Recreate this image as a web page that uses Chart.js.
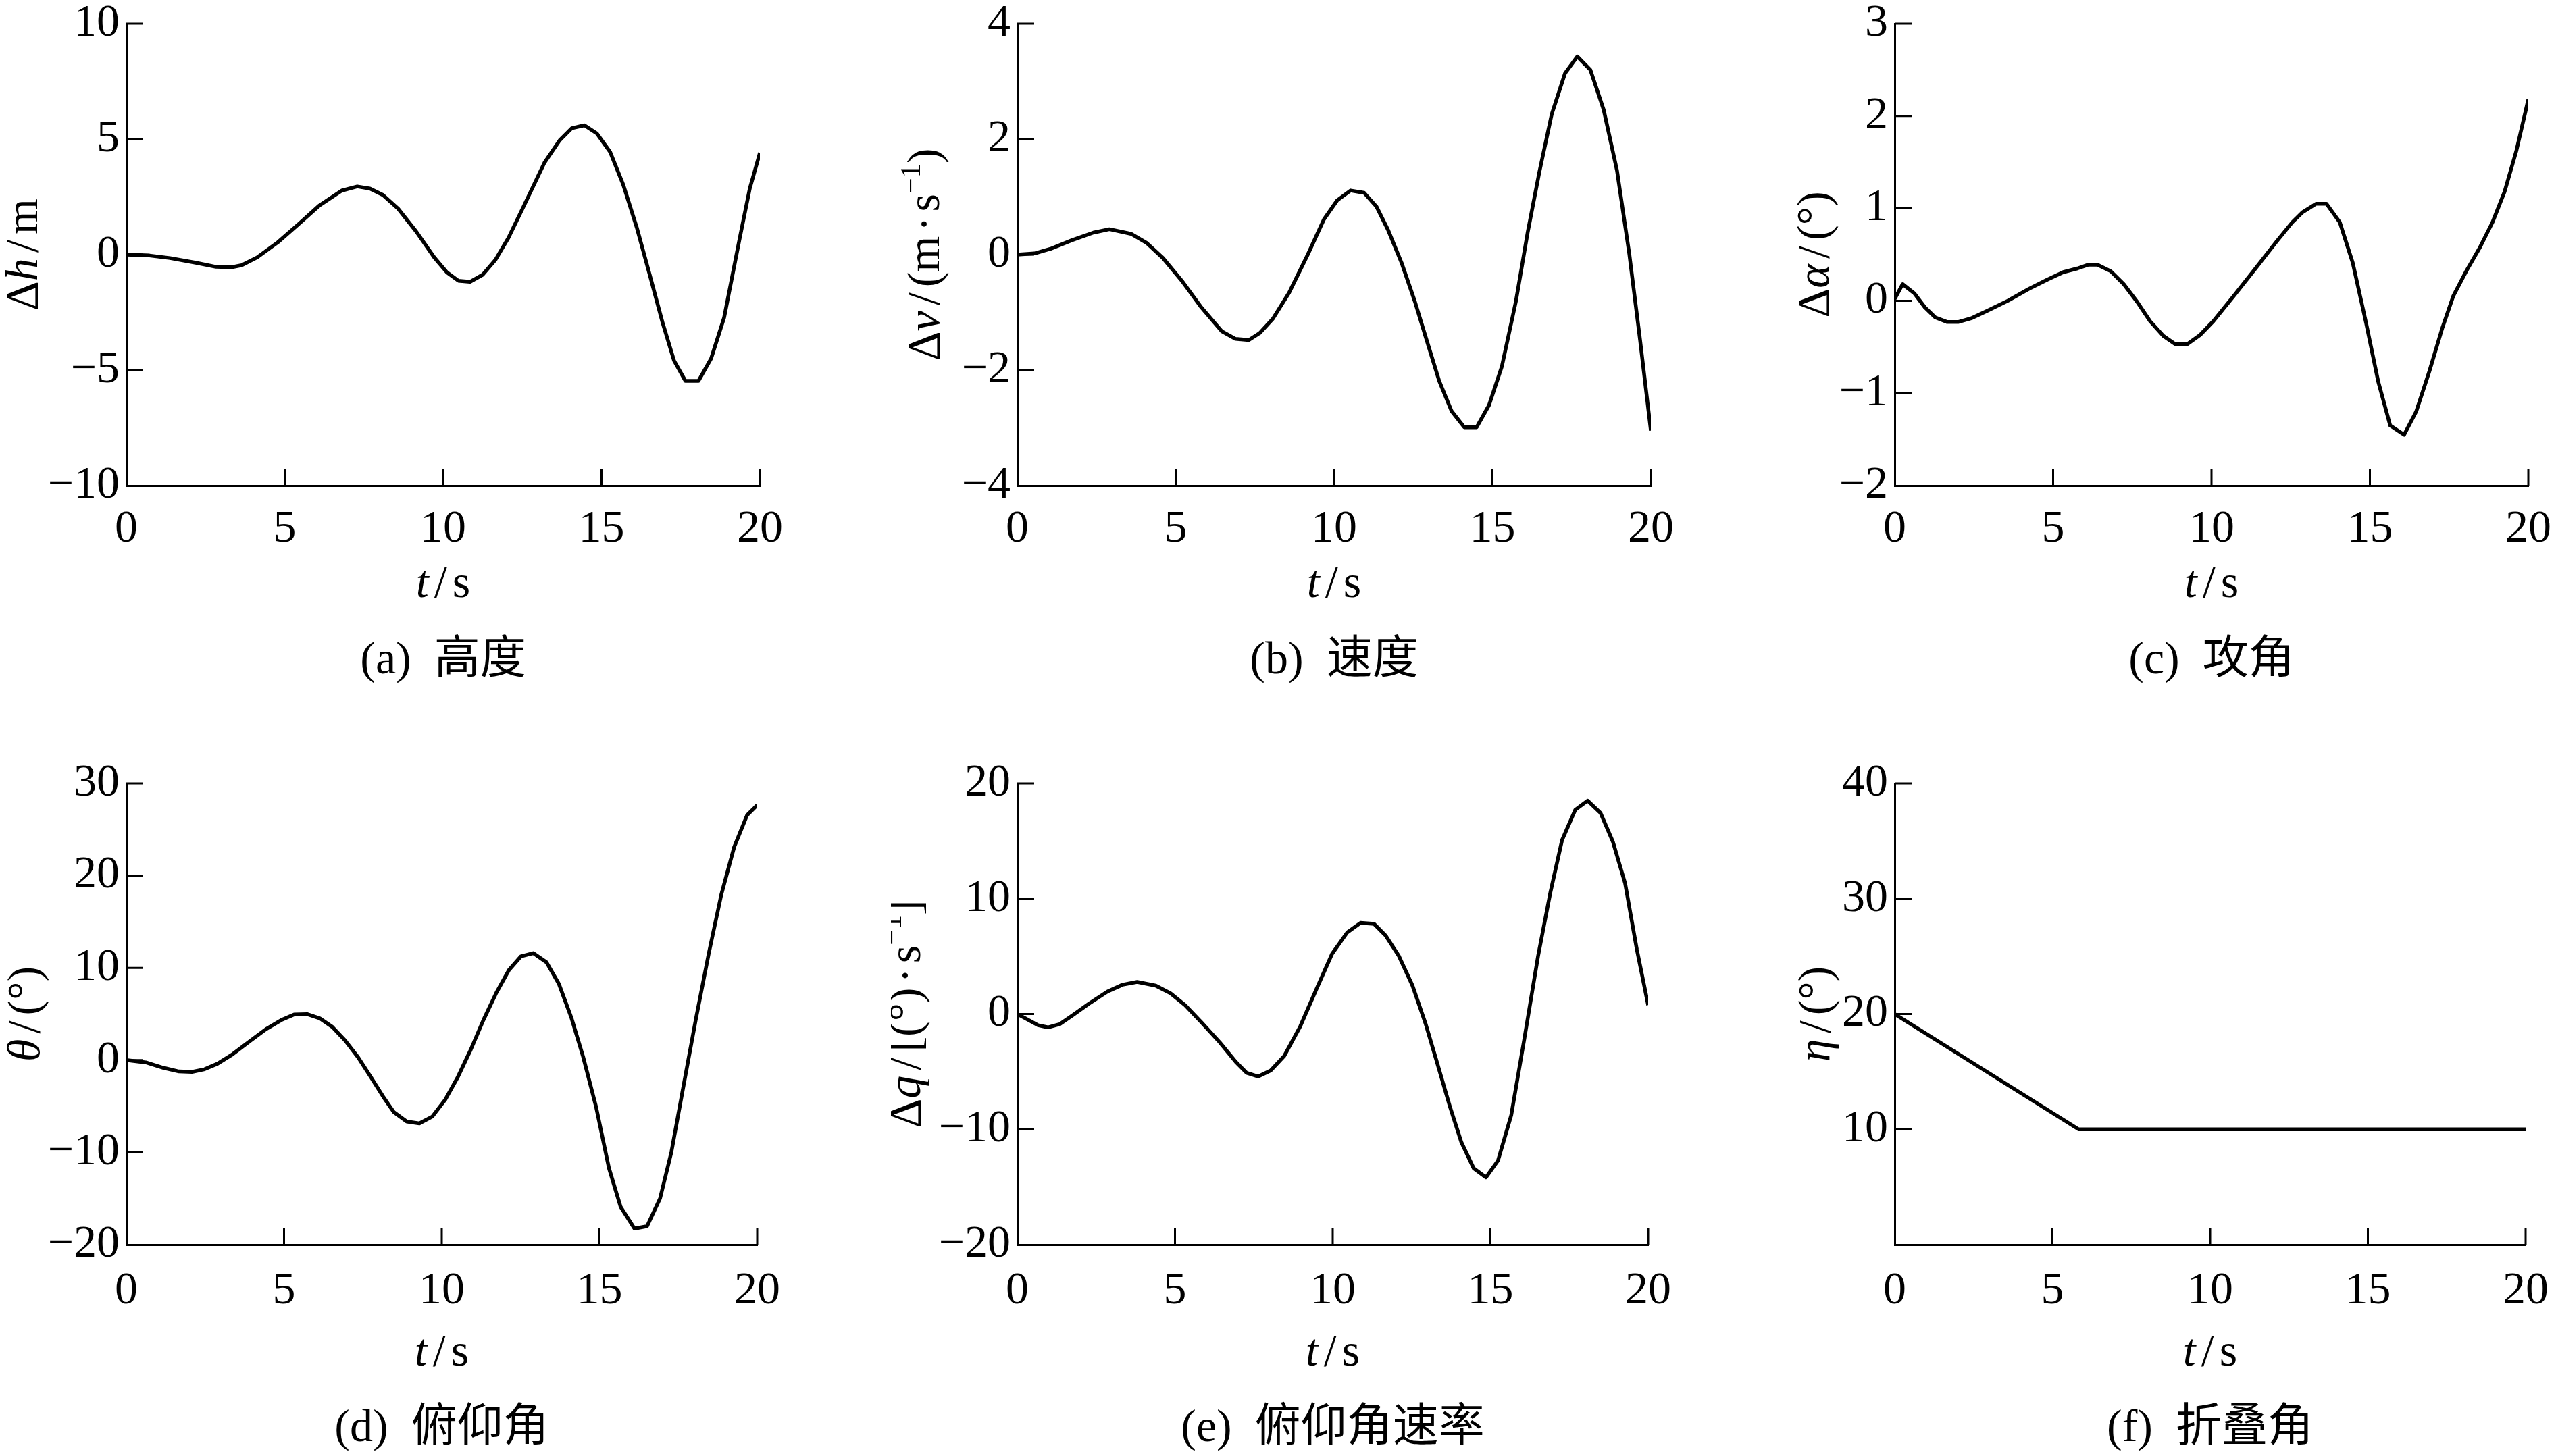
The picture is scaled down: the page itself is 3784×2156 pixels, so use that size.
<!DOCTYPE html>
<html>
<head>
<meta charset="utf-8">
<title>纵向响应</title>
<script src="https://cdn.jsdelivr.net/npm/chart.js@4.4.1/dist/chart.umd.min.js"></script>
<style>
    html, body { margin: 0; padding: 0; background: #fff; width: 3784px; height: 2156px; overflow: hidden; }
    canvas { position: absolute; }
</style>
</head>
<body>
<canvas id="chartA"></canvas>
<canvas id="chartB"></canvas>
<canvas id="chartC"></canvas>
<canvas id="chartD"></canvas>
<canvas id="chartE"></canvas>
<canvas id="chartF"></canvas>
<script>
// time axis ticks, shared by every panel
const tTicks = [0, 5, 10, 15, 20];

// (a) height
const tA = [0, 0.73, 1.38, 2.19, 2.83, 3.32, 3.64, 4.13, 4.78, 5.43, 6.08, 6.8, 7.29, 7.69, 8.1, 8.58, 9.15, 9.72, 10.12, 10.48, 10.85, 11.25, 11.66, 12.06, 12.55, 13.2, 13.68, 14.06, 14.46, 14.85, 15.27, 15.68, 16.11, 16.52, 16.92, 17.29, 17.65, 18.06, 18.46, 18.87, 19.35, 19.68, 20];
const heightA = [0, -0.04, -0.15, -0.35, -0.53, -0.55, -0.46, -0.12, 0.53, 1.31, 2.11, 2.77, 2.95, 2.86, 2.58, 1.99, 1.0, -0.12, -0.77, -1.13, -1.18, -0.87, -0.21, 0.72, 2.11, 3.98, 4.95, 5.47, 5.6, 5.25, 4.45, 3.05, 1.19, -0.86, -2.91, -4.59, -5.47, -5.47, -4.5, -2.73, 0.62, 2.86, 4.41];
const yTicksA = [-10, -5, 0, 5, 10];

// (b) speed
const tB = [0, 0.54, 1.05, 1.73, 2.4, 2.91, 3.59, 4.09, 4.6, 5.19, 5.79, 6.46, 6.89, 7.31, 7.65, 8.07, 8.58, 9.17, 9.68, 10.1, 10.52, 10.95, 11.34, 11.71, 12.13, 12.55, 12.9, 13.32, 13.71, 14.11, 14.5, 14.89, 15.3, 15.74, 16.11, 16.48, 16.87, 17.29, 17.68, 18.09, 18.51, 18.93, 19.32, 19.66, 20];
const speedB = [0, 0.02, 0.1, 0.25, 0.38, 0.44, 0.36, 0.2, -0.06, -0.45, -0.9, -1.33, -1.46, -1.48, -1.36, -1.11, -0.66, 0, 0.61, 0.94, 1.11, 1.07, 0.83, 0.42, -0.14, -0.81, -1.44, -2.19, -2.71, -2.99, -2.99, -2.61, -1.93, -0.81, 0.38, 1.43, 2.43, 3.14, 3.43, 3.2, 2.51, 1.46, 0.01, -1.48, -3.05];
const yTicksB = [-4, -2, 0, 2, 4];

// (c) angle of attack
const tC = [0, 0.25, 0.62, 0.95, 1.28, 1.66, 2.0, 2.41, 2.91, 3.57, 4.24, 4.82, 5.32, 5.77, 6.1, 6.4, 6.82, 7.23, 7.65, 8.06, 8.48, 8.86, 9.23, 9.64, 10.06, 10.72, 11.39, 12.05, 12.55, 12.88, 13.3, 13.63, 14.05, 14.46, 14.88, 15.26, 15.64, 16.08, 16.46, 16.88, 17.29, 17.63, 18.04, 18.46, 18.87, 19.25, 19.62, 20];
const alphaC = [0.02, 0.18, 0.08, -0.07, -0.18, -0.23, -0.23, -0.19, -0.11, 0.0, 0.13, 0.23, 0.31, 0.35, 0.39, 0.39, 0.32, 0.18, -0.01, -0.22, -0.38, -0.47, -0.47, -0.37, -0.22, 0.06, 0.35, 0.64, 0.85, 0.96, 1.05, 1.05, 0.85, 0.41, -0.24, -0.87, -1.35, -1.45, -1.2, -0.76, -0.29, 0.05, 0.32, 0.57, 0.85, 1.18, 1.62, 2.18];
const yTicksC = [-2, -1, 0, 1, 2, 3];

// (d) pitch angle
const tD = [0, 0.62, 1.18, 1.67, 2.08, 2.48, 2.89, 3.37, 3.94, 4.43, 4.91, 5.32, 5.73, 6.13, 6.53, 6.94, 7.35, 7.75, 8.16, 8.48, 8.89, 9.29, 9.7, 10.11, 10.51, 10.92, 11.32, 11.73, 12.13, 12.51, 12.9, 13.32, 13.71, 14.11, 14.48, 14.89, 15.3, 15.67, 16.11, 16.51, 16.92, 17.28, 17.65, 18.05, 18.46, 18.86, 19.27, 19.68, 20];
const thetaD = [0, -0.25, -0.84, -1.23, -1.28, -0.99, -0.39, 0.64, 2.12, 3.36, 4.34, 4.94, 4.99, 4.54, 3.6, 2.12, 0.3, -1.83, -4.05, -5.63, -6.66, -6.86, -6.12, -4.29, -1.83, 1.14, 4.34, 7.3, 9.77, 11.25, 11.6, 10.61, 8.29, 4.59, 0.39, -5.03, -11.7, -15.9, -18.26, -18.0, -15, -9.96, -3.06, 4.34, 11.5, 17.92, 23.1, 26.56, 27.64];
const yTicksD = [-20, -10, 0, 10, 20, 30];

// (e) pitch rate
const tE = [0, 0.66, 0.97, 1.34, 1.76, 2.27, 2.86, 3.34, 3.8, 4.39, 4.86, 5.32, 5.83, 6.42, 6.93, 7.27, 7.64, 8.03, 8.46, 8.97, 9.47, 9.98, 10.46, 10.88, 11.31, 11.68, 12.1, 12.53, 12.95, 13.29, 13.71, 14.08, 14.47, 14.86, 15.24, 15.66, 16.08, 16.51, 16.9, 17.27, 17.69, 18.08, 18.49, 18.88, 19.27, 19.64, 20];
const rateE = [0, -0.97, -1.16, -0.89, -0.1, 0.89, 1.95, 2.54, 2.78, 2.46, 1.79, 0.77, -0.69, -2.46, -4.16, -5.1, -5.42, -4.91, -3.65, -1.08, 2.07, 5.22, 7.07, 7.9, 7.82, 6.8, 5.02, 2.46, -0.89, -4.04, -7.98, -11.13, -13.38, -14.17, -12.71, -8.77, -2.07, 5.02, 10.54, 15.07, 17.71, 18.5, 17.44, 14.96, 11.33, 5.62, 0.77];
const yTicksE = [-20, -10, 0, 10, 20];

// (f) folding angle
const tF = [0, 5.83, 20];
const etaF = [20, 10, 10];
const yTicksF = [10, 20, 30, 40];

// ---- layout / style ----
const FONT = '"Liberation Serif", "Noto Sans CJK SC", serif';
const SIZE = 68;
const TICK = 25;
const PLOT_W = 946, Y_AXIS_W = 187, TOP_PAD = 60, RIGHT_PAD = 50, X_AXIS_H = 313;
const cols = [187, 1506, 2805];
const rows = [
    { top: 35, bottom: 719, labelPad: 24, xTitle: 143, caption: 256 },
    { top: 1160, bottom: 1843, labelPad: 28, xTitle: 157, caption: 269 }
];

// rich text pieces: plain, italic ('i'), superscript ('sup'); gap() is a fixed blank in em
const seg = (text, style) => ({ text, italic: style === 'i', sup: style === 'sup' });
const gap = em => ({ text: '', gap: em });
const slash = [gap(0.12), seg('/'), gap(0.12)];
const dot = [gap(0.1), seg('·'), gap(0.1)];
const xTitle = [seg('t', 'i'), ...slash, seg('s')];

const panels = [
    { id: 'chartA', col: 0, row: 0, t: tA, v: heightA, yTicks: yTicksA, yMin: -10, yMax: 10, yTitleX: -154,
      yTitle: [seg('Δ'), seg('h', 'i'), ...slash, seg('m')], caption: '(a)  高度' },
    { id: 'chartB', col: 1, row: 0, t: tB, v: speedB, yTicks: yTicksB, yMin: -4, yMax: 4, yTitleX: -138,
      yTitle: [seg('Δ'), seg('v', 'i'), ...slash, seg('(m'), ...dot, seg('s'), seg('−1', 'sup'), seg(')')], caption: '(b)  速度' },
    { id: 'chartC', col: 2, row: 0, t: tC, v: alphaC, yTicks: yTicksC, yMin: -2, yMax: 3, yTitleX: -120,
      yTitle: [seg('Δ'), seg('α', 'i'), ...slash, seg('(°)')], caption: '(c)  攻角' },
    { id: 'chartD', col: 0, row: 1, t: tD, v: thetaD, yTicks: yTicksD, yMin: -20, yMax: 30, yTitleX: -151,
      yTitle: [seg('θ', 'i'), ...slash, seg('(°)')], caption: '(d)  俯仰角' },
    { id: 'chartE', col: 1, row: 1, t: tE, v: rateE, yTicks: yTicksE, yMin: -20, yMax: 20, yTitleX: -166,
      yTitle: [seg('Δ'), seg('q', 'i'), ...slash, seg('[(°)'), ...dot, seg('s'), seg('−1', 'sup'), seg(']')], caption: '(e)  俯仰角速率' },
    { id: 'chartF', col: 2, row: 1, t: tF, v: etaF, yTicks: yTicksF, yMin: 0, yMax: 40, yTitleX: -118,
      yTitle: [seg('η', 'i'), ...slash, seg('(°)')], caption: '(f)  折叠角' }
];
const panelById = new Map(panels.map(p => [p.id, p]));

function drawRich(ctx, segs, cx, cy) {
    const parts = segs.map(s => {
        if (s.gap) return { text: '', w: s.gap * SIZE };
        const size = s.sup ? Math.round(SIZE * 0.62) : SIZE;
        const font = (s.italic ? 'italic ' : '') + size + 'px ' + FONT;
        ctx.font = font;
        return { text: s.text, sup: s.sup, font, w: ctx.measureText(s.text).width };
    });
    const total = parts.reduce((a, p) => a + p.w, 0);
    let x = cx - total / 2;
    const base = cy + SIZE * 0.33;
    ctx.textAlign = 'left';
    ctx.textBaseline = 'alphabetic';
    parts.forEach(p => {
        if (p.text) {
            ctx.font = p.font;
            ctx.fillText(p.text, x, p.sup ? base - SIZE * 0.42 : base);
        }
        x += p.w;
    });
}

// inward ticks, axis titles and the caption under each panel
const decor = {
    id: 'decor',
    afterDraw(chart) {
        const p = panelById.get(chart.canvas.id);
        const r = rows[p.row];
        const { ctx, chartArea: area, scales: { x, y } } = chart;
        ctx.save();
        ctx.strokeStyle = '#000';
        ctx.lineWidth = 3;
        ctx.beginPath();
        tTicks.filter(v => v > 0).forEach(v => {
            const px = x.getPixelForValue(v);
            ctx.moveTo(px, area.bottom);
            ctx.lineTo(px, area.bottom - TICK);
        });
        p.yTicks.filter(v => v > p.yMin).forEach(v => {
            const py = y.getPixelForValue(v);
            ctx.moveTo(area.left, py);
            ctx.lineTo(area.left + TICK, py);
        });
        ctx.stroke();

        ctx.fillStyle = '#000';
        const midX = (area.left + area.right) / 2;
        drawRich(ctx, xTitle, midX, area.bottom + r.xTitle);
        drawRich(ctx, [seg(p.caption)], midX, area.bottom + r.caption);

        ctx.translate(area.left + p.yTitleX, (area.top + area.bottom) / 2);
        ctx.rotate(-Math.PI / 2);
        drawRich(ctx, p.yTitle, 0, 0);
        ctx.restore();
    }
};

const fmt = v => String(v).replace('-', '−');

function makePanel(p) {
    const r = rows[p.row];
    const canvas = document.getElementById(p.id);
    canvas.width = Y_AXIS_W + PLOT_W + RIGHT_PAD;
    canvas.height = TOP_PAD + (r.bottom - r.top) + X_AXIS_H;
    canvas.style.left = (cols[p.col] - Y_AXIS_W) + 'px';
    canvas.style.top = (r.top - TOP_PAD) + 'px';

    new Chart(canvas.getContext('2d'), {
        type: 'line',
        data: {
            datasets: [{
                data: p.t.map((tv, i) => ({ x: tv, y: p.v[i] })),
                borderColor: '#000',
                borderWidth: 5.5,
                borderJoinStyle: 'round',
                pointRadius: 0,
                tension: 0,
                fill: false
            }]
        },
        options: {
            responsive: false,
            animation: false,
            devicePixelRatio: 1,
            events: [],
            layout: { padding: { left: 0, top: TOP_PAD, right: RIGHT_PAD, bottom: 0 } },
            plugins: { legend: { display: false }, tooltip: { enabled: false } },
            scales: {
                x: {
                    type: 'linear',
                    min: 0,
                    max: 20,
                    afterBuildTicks: s => { s.ticks = tTicks.map(v => ({ value: v })); },
                    afterFit: s => { s.height = X_AXIS_H; },
                    grid: { display: false, drawTicks: false },
                    border: { display: true, color: '#000', width: 3 },
                    ticks: {
                        color: '#000',
                        font: { family: FONT, size: SIZE },
                        padding: r.labelPad,
                        maxRotation: 0,
                        autoSkip: false,
                        callback: fmt
                    }
                },
                y: {
                    type: 'linear',
                    min: p.yMin,
                    max: p.yMax,
                    afterBuildTicks: s => { s.ticks = p.yTicks.map(v => ({ value: v })); },
                    afterFit: s => { s.width = Y_AXIS_W; },
                    grid: { display: false, drawTicks: false },
                    border: { display: true, color: '#000', width: 3 },
                    ticks: {
                        color: '#000',
                        font: { family: FONT, size: SIZE },
                        padding: 10,
                        autoSkip: false,
                        callback: fmt
                    }
                }
            }
        },
        plugins: [decor]
    });
}

panels.forEach(makePanel);
</script>
</body>
</html>
